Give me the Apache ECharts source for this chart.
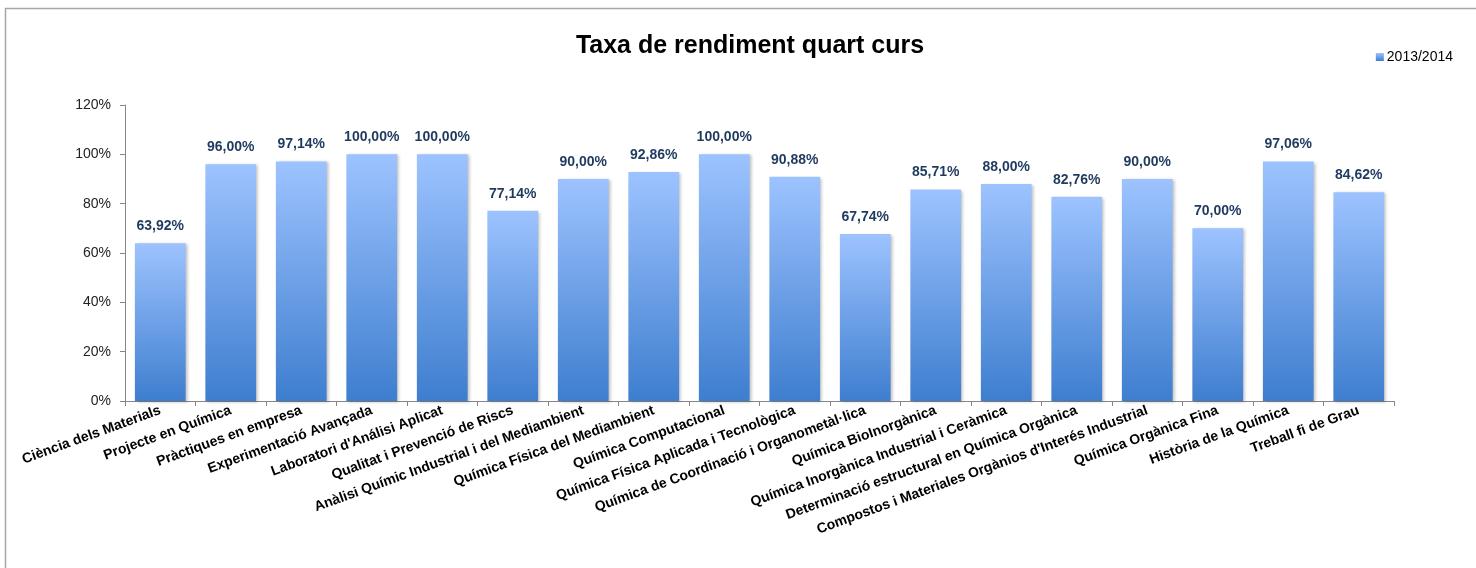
<!DOCTYPE html>
<html>
<head>
<meta charset="utf-8">
<script src="https://cdn.jsdelivr.net/npm/echarts@6/dist/echarts.min.js"></script>
<style>
  html, body { margin: 0; padding: 0; background: #fff; }
  #chart { width: 1476px; height: 568px; }
</style>
</head>
<body>
<div id="chart"></div>
<script>
const categories = [
  'Ciència dels Materials',
  'Projecte en Química',
  'Pràctiques en empresa',
  'Experimentació Avançada',
  "Laboratori d'Análisi Aplicat",
  'Qualitat i Prevenció de Riscs',
  'Anàlisi Químic Industrial i del Mediambient',
  'Química Física del Mediambient',
  'Química Computacional',
  'Química Física Aplicada i Tecnològica',
  'Química de Coordinació i Organometàl·lica',
  'Química BioInorgànica',
  'Química Inorgànica Industrial i Ceràmica',
  'Determinació estructural en Química Orgànica',
  "Compostos i Materiales Orgànios d'Interés Industrial",
  'Química Orgànica Fina',
  'Història de la Química',
  'Treball fi de Grau'
];
const rendiment = [63.92, 96.00, 97.14, 100.00, 100.00, 77.14, 90.00, 92.86, 100.00, 90.88, 67.74, 85.71, 88.00, 82.76, 90.00, 70.00, 97.06, 84.62];
const seriesName = '2013/2014';
const yTicks = { min: 0, max: 120, interval: 20 };

const font = '"Liberation Sans Narrow", "Liberation Sans", Arial, sans-serif';
const axisGray = '#868686';

const barGradient = new echarts.graphic.LinearGradient(0, 0, 0, 1, [
  { offset: 0, color: '#9dc3ff' },
  { offset: 1, color: '#3e7ecf' }
]);

const chart = echarts.init(document.getElementById('chart'));

chart.setOption({
  animation: false,
  textStyle: { fontFamily: font },
  title: {
    text: 'Taxa de rendiment quart curs',
    left: 745,
    textAlign: 'center',
    top: 29,
    textStyle: { fontFamily: font, fontSize: 25, fontWeight: 'bold', color: '#000' }
  },
  legend: {
    right: 18,
    top: 45,
    itemWidth: 8,
    itemHeight: 8,
    itemGap: 4,
    icon: 'rect',
    textStyle: { fontFamily: font, fontSize: 14, color: '#000', padding: [0, 0, 0, -2] },
    data: [seriesName]
  },
  graphic: [
    {
      type: 'rect',
      shape: { x: 5.5, y: 8.5, width: 1600, height: 700 },
      style: { fill: 'none', stroke: '#a6a6a6', lineWidth: 1.5 },
      silent: true
    }
  ],
  grid: { left: 125, right: 82, top: 105, bottom: 167 },
  xAxis: {
    type: 'category',
    data: categories,
    axisLine: { lineStyle: { color: axisGray, width: 1 } },
    axisTick: { show: true, length: 5, lineStyle: { color: axisGray } },
    axisLabel: {
      interval: 0,
      rotate: 20,
      margin: 9,
      fontFamily: font,
      fontSize: 14,
      fontWeight: 'bold',
      color: '#000'
    },
    splitLine: { show: false }
  },
  yAxis: {
    type: 'value',
    min: yTicks.min,
    max: yTicks.max,
    interval: yTicks.interval,
    axisLine: { show: true, lineStyle: { color: axisGray } },
    axisTick: { show: true, length: 5, lineStyle: { color: axisGray } },
    axisLabel: {
      formatter: '{value}%',
      fontFamily: font,
      fontSize: 14,
      color: '#222',
      margin: 14
    },
    splitLine: { show: false }
  },
  series: [
    {
      name: seriesName,
      type: 'bar',
      data: rendiment,
      barCategoryGap: '28%',
      itemStyle: {
        color: barGradient,
        shadowColor: 'rgba(0,0,0,0.25)',
        shadowBlur: 3,
        shadowOffsetX: 2,
        shadowOffsetY: 1
      },
      label: {
        show: true,
        position: 'top',
        distance: 10,
        formatter: (p) => p.value.toFixed(2).replace('.', ',') + '%',
        fontFamily: font,
        fontSize: 14,
        fontWeight: 'bold',
        color: '#1f3a5f'
      }
    }
  ]
});
</script>
</body>
</html>
